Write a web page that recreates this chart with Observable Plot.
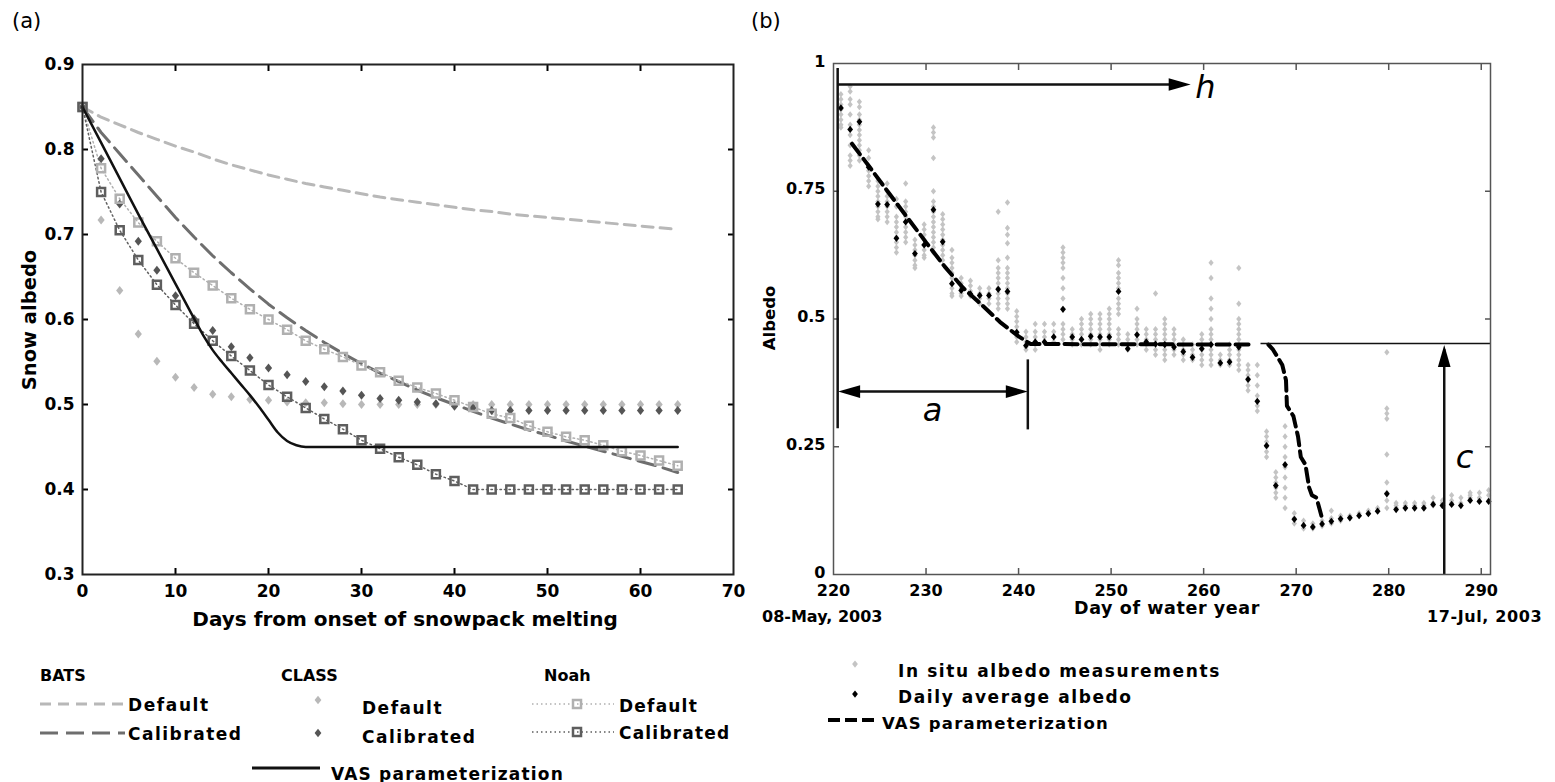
<!DOCTYPE html>
<html><head><meta charset="utf-8">
<script src="https://cdn.jsdelivr.net/npm/d3@7"></script>
<script src="https://cdn.jsdelivr.net/npm/@observablehq/plot@0.6"></script>
<style>
body{margin:0;background:#fff;}
#root{position:relative;width:1555px;height:782px;overflow:hidden;font-family:"DejaVu Sans",sans-serif;color:#000;}
.abs{position:absolute;white-space:nowrap;}
svg{overflow:visible;}
</style></head><body><div id="root"></div>
<script>
// ---------------- Panel (a) data ----------------
const meltDays = [0,2,4,6,8,10,12,14,16,18,20,22,24,26,28,30,32,34,36,38,40,42,44,46,48,50,52,54,56,58,60,62,64];
const batsDefault = [.85,.838,.829,.82,.812,.804,.797,.789,.782,.776,.77,.765,.76,.756,.752,.748,.744,.741,.738,.735,.732,.729,.727,.724,.722,.72,.718,.716,.714,.712,.71,.708,.706];
const batsCalibrated = [.85,.82,.795,.77,.745,.72,.697,.675,.655,.636,.618,.602,.587,.573,.56,.548,.537,.527,.517,.508,.5,.492,.484,.477,.47,.464,.457,.451,.445,.439,.433,.427,.42];
const classDefault = [.85,.717,.634,.583,.551,.532,.52,.512,.509,.506,.505,.503,.502,.502,.501,.5,.5,.5,.5,.5,.5,.5,.5,.5,.5,.5,.5,.5,.5,.5,.5,.5,.5];
const classCalibrated = [.85,.789,.736,.692,.658,.628,.601,.587,.568,.555,.543,.535,.527,.521,.516,.511,.507,.505,.503,.501,.498,.496,.493,.493,.493,.493,.493,.493,.493,.493,.493,.493,.493];
const noahDefault = [.85,.778,.742,.714,.692,.672,.655,.64,.625,.612,.6,.588,.575,.565,.556,.546,.538,.528,.52,.513,.505,.497,.489,.484,.475,.468,.462,.458,.452,.445,.44,.434,.428];
const noahCalibrated = [.85,.75,.705,.67,.641,.617,.595,.575,.557,.54,.523,.509,.496,.483,.471,.458,.448,.438,.429,.418,.41,.4,.4,.4,.4,.4,.4,.4,.4,.4,.4,.4,.4];
const vasADays = [0,2,4,6,8,10,12,13,14,15,16,17,18,19,20,21,22,23,24,64];
const vasAValues = [.85,.808,.766,.724,.683,.642,.601,.581,.564,.55,.537,.524,.511,.497,.482,.467,.457,.452,.45,.45];
const xTicksA = [0,10,20,30,40,50,60,70];
const yTicksA = [0.3,0.4,0.5,0.6,0.7,0.8,0.9];

// ---------------- Panel (b) data ----------------
const obsDays = [220.8,221.8,222.8,223.8,224.8,225.8,226.8,227.8,228.8,229.8,230.8,231.8,232.8,233.8,234.8,235.8,236.8,237.8,238.8,239.8,240.8,241.8,242.8,243.8,244.8,245.8,246.8,247.8,248.8,249.8,250.8,251.8,252.8,253.8,254.8,255.8,256.8,257.8,258.8,259.8,260.8,261.8,262.8,263.8,264.8,265.8,266.8,267.8,268.8,269.8,270.8,271.8,272.8,273.8,274.8,275.8,276.8,277.8,278.8,279.8,280.8,281.8,282.8,283.8,284.8,285.8,286.8,287.8,288.8,289.8,290.8];
const inSituValues = [
 [0.94,0.93,0.92,0.91,0.9,0.89,0.88,0.875],
 [0.955,0.945,0.93,0.92,0.9,0.88,0.86,0.84,0.82,0.81,0.8],
 [0.925,0.915,0.9,0.89,0.88,0.87,0.86,0.85,0.84,0.83,0.82,0.81],
 [0.83,0.815,0.8,0.79,0.78,0.77,0.76],
 [0.77,0.76,0.75,0.74,0.73,0.72,0.71,0.7,0.695],
 [0.765,0.75,0.74,0.73,0.72,0.71,0.7,0.69],
 [0.735,0.72,0.7,0.69,0.68,0.67,0.66,0.65,0.64,0.63],
 [0.765,0.73,0.72,0.71,0.7,0.69,0.68,0.67,0.66,0.65],
 [0.655,0.645,0.635,0.625,0.615,0.605,0.6],
 [0.685,0.675,0.665,0.655,0.645,0.635,0.625,0.62],
 [0.875,0.865,0.855,0.815,0.75,0.73,0.72,0.71,0.7,0.69,0.68,0.67,0.66,0.65,0.64,0.63],
 [0.705,0.695,0.685,0.675,0.665,0.655,0.645,0.635,0.625,0.615],
 [0.635,0.62,0.61,0.6,0.59,0.58,0.57,0.56,0.55,0.545],
 [0.58,0.57,0.56,0.55,0.545],
 [0.575,0.565,0.555,0.545],
 [0.56,0.55,0.54,0.53],
 [0.56,0.55,0.54,0.53],
 [0.71,0.615,0.6,0.59,0.58,0.57,0.56,0.55,0.54,0.53,0.52],
 [0.728,0.678,0.665,0.648,0.62,0.6,0.59,0.58,0.57,0.56,0.55,0.54,0.53,0.52],
 [0.515,0.505,0.495,0.485,0.475,0.465,0.455],
 [0.475,0.465,0.455,0.445,0.44],
 [0.49,0.475,0.465,0.455,0.45,0.44],
 [0.49,0.475,0.465,0.455],
 [0.49,0.475,0.465,0.455],
 [0.64,0.63,0.62,0.61,0.6,0.58,0.56,0.54,0.52,0.49,0.48,0.47,0.46],
 [0.48,0.47,0.46,0.45],
 [0.5,0.49,0.48,0.47,0.46,0.45],
 [0.51,0.5,0.49,0.48,0.47,0.46,0.45],
 [0.51,0.5,0.49,0.48,0.47,0.46,0.45,0.44],
 [0.52,0.51,0.5,0.49,0.48,0.47,0.46,0.45],
 [0.615,0.605,0.59,0.58,0.57,0.56,0.54,0.53,0.52,0.51,0.48,0.47,0.46,0.45],
 [0.47,0.46,0.45,0.44],
 [0.52,0.5,0.49,0.48,0.47,0.46,0.45],
 [0.48,0.47,0.46,0.45,0.44],
 [0.55,0.48,0.47,0.46,0.45,0.44,0.43],
 [0.5,0.49,0.48,0.47,0.46,0.45,0.44,0.43,0.42],
 [0.48,0.47,0.46,0.45,0.44,0.43],
 [0.46,0.45,0.44,0.43,0.42],
 [0.45,0.44,0.43,0.42],
 [0.47,0.46,0.45,0.44,0.43,0.42,0.41],
 [0.61,0.58,0.54,0.52,0.5,0.48,0.47,0.46,0.45,0.44,0.43,0.42,0.41],
 [0.43,0.42,0.41],
 [0.45,0.44,0.43,0.42,0.41],
 [0.6,0.53,0.5,0.49,0.48,0.47,0.46,0.45,0.44,0.43,0.42,0.41,0.4],
 [0.41,0.4,0.39,0.38,0.37,0.36],
 [0.41,0.39,0.37,0.35,0.33,0.32],
 [0.28,0.27,0.26,0.25,0.24,0.23],
 [0.2,0.19,0.18,0.17,0.16,0.15],
 [0.29,0.27,0.25,0.23,0.21,0.19,0.17,0.15,0.13],
 [0.12,0.11,0.1],
 [0.105,0.095,0.09],
 [0.1,0.09],
 [0.105,0.095],
 [0.125,0.11,0.1],
 [0.115,0.105],
 [0.115,0.11],
 [0.12,0.115],
 [0.125,0.12],
 [0.13,0.125],
 [0.435,0.325,0.315,0.305,0.235,0.18,0.16,0.145,0.13],
 [0.14,0.135,0.13],
 [0.14,0.135,0.13],
 [0.14,0.135,0.13],
 [0.14,0.135,0.13],
 [0.15,0.14,0.135],
 [0.145,0.14],
 [0.155,0.145,0.14],
 [0.15,0.14],
 [0.16,0.155,0.15],
 [0.16,0.15,0.145],
 [0.165,0.155,0.145]
];
const dailyAverage = [0.913,0.871,0.886,0.797,0.725,0.724,0.658,0.69,0.628,0.645,
 0.714,0.651,0.569,0.556,0.549,0.546,0.546,0.558,0.554,0.474,
 0.448,0.455,0.455,0.465,0.519,0.465,0.46,0.466,0.465,0.465,
 0.554,0.442,0.469,0.455,0.451,0.45,0.445,0.436,0.425,0.442,
 0.45,0.414,0.416,0.445,0.382,0.339,0.252,0.174,0.215,0.108,
 0.096,0.093,0.099,0.104,0.109,0.111,0.115,0.119,0.124,0.158,
 0.127,0.13,0.13,0.13,0.137,0.135,0.137,0.135,0.145,0.143,0.143];
const vasBDays = [222,224,226,228,230,232,234,236,238,240,241.3,265,267,267.5,268.5,268.9,269,269.7,270.2,270.5,271,271.4,271.7,272.2,272.8];
const vasBValues = [0.843,0.795,0.746,0.698,0.65,0.603,0.561,0.528,0.494,0.466,0.451,0.45,0.45,0.44,0.41,0.38,0.33,0.31,0.27,0.23,0.215,0.17,0.155,0.15,0.11];
const vasBSegment = [1,1,1,1,1,1,1,1,1,1,1,1,2,2,2,2,2,2,2,2,2,2,2,2,2];
const xTicksB = [220,230,240,250,260,270,280,290];
const yTicksB = [0,0.25,0.5,0.75,1];
// annotation geometry (data units)
const guideV = [{x:220.45, y1:0.285, y2:0.99},{x:241, y1:0.283, y2:0.42},{x:286, y1:0, y2:0.44}];
const guideH = [{y:0.959, x1:220.45, x2:257.5, w:2.5},{y:0.358, x1:221.5, x2:240, w:2.5},{y:0.452, x1:266.2, x2:291, w:1.5}];
const arrowHeads = [{x:258.6, y:0.959, rot:90},{x:220.5, y:0.358, rot:-90},{x:241, y:0.358, rot:90},{x:286, y:0.449, rot:0}];
const annoLabels = [{x:260.2, y:0.953, t:"h"},{x:230.7, y:0.321, t:"a"},{x:288.2, y:0.229, t:"c"}];

// ---------------- build ----------------
const root = document.getElementById("root");
const font = "DejaVu Sans";
const seriesA = (vals) => meltDays.map((d,i)=>({d, v: vals[i]}));
const vasA = vasADays.map((d,i)=>({d, v: vasAValues[i]}));
const inSitu = obsDays.flatMap((d,i)=>inSituValues[i].map(v=>({d, v})));
const daily = obsDays.map((d,i)=>({d, v: dailyAverage[i]}));
const vasB = vasBDays.map((d,i)=>({d, v: vasBValues[i], s: vasBSegment[i]}));
const blank = () => "";

const headSymbol = { draw(ctx, size) { const r = Math.sqrt(size/Math.PI); const L = 4*r, W = 1.15*r; ctx.moveTo(0,0); ctx.lineTo(-W,L); ctx.lineTo(W,L); ctx.closePath(); } };
// square rhombus marker
const rhombus = { draw(ctx, size) { const r = Math.sqrt(size/Math.PI); const h = 1.25*r, w = 1.0*r; ctx.moveTo(0,-h); ctx.lineTo(w,0); ctx.lineTo(0,h); ctx.lineTo(-w,0); ctx.closePath(); } };

const left = Plot.plot({
  width: 760, height: 640,
  marginLeft: 82, marginRight: 27, marginTop: 64, marginBottom: 66,
  x: {domain: [0,70]}, y: {domain: [0.3,0.9]},
  style: {fontFamily: font, fontSize: "17px", fontWeight: "bold", color: "#000", background: "transparent"},
  marks: [
    Plot.axisX({ticks: xTicksA, tickSize: 0, tickPadding: 10, label: null}),
    Plot.axisX({ticks: xTicksA.slice(1,-1), tickSize: -6, tickFormat: blank, label: null, strokeWidth: 2}),
    Plot.axisX({anchor: "top", ticks: xTicksA.slice(1,-1), tickSize: -6, tickFormat: blank, label: null, strokeWidth: 2}),
    Plot.axisY({ticks: yTicksA, tickSize: 0, tickPadding: 8, tickFormat: d3.format(".1f"), label: null}),
    Plot.axisY({ticks: yTicksA.slice(1,-1), tickSize: -6, tickFormat: blank, label: null, strokeWidth: 2}),
    Plot.axisY({anchor: "right", ticks: yTicksA.slice(1,-1), tickSize: -6, tickFormat: blank, label: null, strokeWidth: 2}),
    Plot.line(seriesA(batsDefault), {x:"d", y:"v", stroke:"#b8b8b8", strokeWidth: 3, strokeDasharray: "11,7"}),
    Plot.line(seriesA(batsCalibrated), {x:"d", y:"v", stroke:"#6e6e6e", strokeWidth: 3, strokeDasharray: "18,8"}),
    Plot.line(seriesA(noahDefault), {x:"d", y:"v", stroke:"#b0b0b0", strokeWidth: 1.5, strokeDasharray: "1.5,3"}),
    Plot.line(seriesA(noahCalibrated), {x:"d", y:"v", stroke:"#606060", strokeWidth: 1.5, strokeDasharray: "1.5,3"}),
    Plot.dot(seriesA(classDefault), {x:"d", y:"v", symbol: rhombus, r: 3.6, fill:"#b8b8b8"}),
    Plot.dot(seriesA(classCalibrated), {x:"d", y:"v", symbol: rhombus, r: 3.6, fill:"#555"}),
    Plot.dot(seriesA(noahDefault), {x:"d", y:"v", symbol:"square", r: 4.5, fill:"#fff", fillOpacity: 0, stroke:"#b0b0b0", strokeWidth: 2.5}),
    Plot.dot(seriesA(noahCalibrated), {x:"d", y:"v", symbol:"square", r: 4.5, fill:"#fff", fillOpacity: 0, stroke:"#5e5e5e", strokeWidth: 2.5}),
    Plot.line(vasA, {x:"d", y:"v", stroke:"#111", strokeWidth: 2.5, curve: "monotone-x"}),
    Plot.frame({stroke: "#222", strokeWidth: 2})
  ]
});
left.style.position = "absolute"; left.style.left = "0px"; left.style.top = "0px";
root.appendChild(left);

const right = Plot.plot({
  width: 795, height: 640,
  marginLeft: 73, marginRight: 65, marginTop: 63, marginBottom: 66,
  x: {domain: [220,291]}, y: {domain: [0,1]},
  style: {fontFamily: font, fontSize: "16px", fontWeight: "bold", color: "#000", background: "transparent"},
  marks: [
    Plot.axisX({ticks: xTicksB, tickSize: 0, tickPadding: 10, label: null}),
    Plot.axisX({ticks: xTicksB.slice(1), tickSize: -6, tickFormat: blank, label: null, stroke: "#555", strokeWidth: 1.5}),
    Plot.axisX({anchor: "top", ticks: xTicksB.slice(1), tickSize: -6, tickFormat: blank, label: null, stroke: "#555", strokeWidth: 1.5}),
    Plot.axisY({ticks: yTicksB, tickSize: 0, tickPadding: 8, tickFormat: d => String(d), label: null, dy: -2}),
    Plot.axisY({ticks: yTicksB.slice(1,-1), tickSize: -6, tickFormat: blank, label: null, stroke: "#555", strokeWidth: 1.5}),
    Plot.axisY({anchor: "right", ticks: yTicksB.slice(1,-1), tickSize: -6, tickFormat: blank, label: null, stroke: "#555", strokeWidth: 1.5}),
    Plot.dot(inSitu, {x:"d", y:"v", symbol: rhombus, r: 2.6, fill:"#c4c4c4"}),
    Plot.line(vasB, {x:"d", y:"v", z:"s", stroke:"#000", strokeWidth: 4, strokeDasharray: "13,6"}),
    Plot.dot(daily, {x:"d", y:"v", symbol: rhombus, r: 2.9, fill:"#000"}),
    Plot.ruleX(guideV, {x:"x", y1:"y1", y2:"y2", stroke:"#111", strokeWidth: 2.5}),
    Plot.ruleY(guideH, {y:"y", x1:"x1", x2:"x2", stroke:"#111", strokeWidth: "w"}),
    Plot.dot(arrowHeads, {x:"x", y:"y", rotate:"rot", symbol: headSymbol, r: 5.5, fill:"#000"}),
    Plot.text(annoLabels, {x:"x", y:"y", text:"t", fontSize: 32, fontStyle:"italic", fontWeight:"normal", fill:"#000"}),
    Plot.frame({stroke: "#555", strokeWidth: 1.5})
  ]
});
right.style.position = "absolute"; right.style.left = "760px"; right.style.top = "0px";
root.appendChild(right);

// ---------------- texts ----------------
function txt(s, x, y, o = {}) {
  const d = document.createElement("div");
  d.className = "abs"; d.textContent = s;
  const size = o.size || 17;
  d.style.fontSize = size + "px"; d.style.lineHeight = size + "px";
  d.style.fontWeight = o.weight || "bold";
  if (o.ls) d.style.letterSpacing = o.ls + "px";
  d.style.left = x + "px"; d.style.top = y + "px";
  let tr = "translate(" + (o.anchor === "middle" ? "-50%" : "0") + ",-50%)";
  if (o.rotate) tr = "translate(-50%,-50%) rotate(-90deg)";
  d.style.transform = tr;
  root.appendChild(d);
}
txt("(a)", 12, 21, {size: 21, weight: "normal"});
txt("(b)", 751, 21, {size: 21, weight: "normal"});
txt("Days from onset of snowpack melting", 405, 619, {size: 20, anchor: "middle"});
txt("Snow albedo", 30, 320, {size: 19.5, rotate: true});
txt("Day of water year", 1167, 609, {size: 17.5, anchor: "middle", ls: 0.6});
txt("Albedo", 770, 318, {size: 16.5, rotate: true});
txt("08-May, 2003", 762, 617, {size: 16});
txt("17-Jul, 2003", 1427, 617, {size: 16, ls: 0.6});

// legend (a)
txt("BATS", 40, 676, {size: 16});
txt("CLASS", 281, 676, {size: 16});
txt("Noah", 544, 676, {size: 16});
txt("Default", 128, 705, {size: 17, ls: 1.6});
txt("Calibrated", 128, 734, {size: 17, ls: 1.5});
txt("Default", 362, 708, {size: 17, ls: 1.5});
txt("Calibrated", 362, 737, {size: 17, ls: 1.5});
txt("Default", 619, 706, {size: 17, ls: 1.2});
txt("Calibrated", 619, 733, {size: 17, ls: 1.2});
txt("VAS parameterization", 331, 774, {size: 17, ls: 1.2});
// legend (b)
txt("In situ albedo measurements", 898, 671, {size: 17, ls: 1.6});
txt("Daily average albedo", 898, 697, {size: 17, ls: 1.6});
txt("VAS parameterization", 882, 724, {size: 16.5, ls: 1.2});

// legend swatches
const sw = d3.select(root).append("svg").attr("width", 1555).attr("height", 782)
  .style("position", "absolute").style("left", 0).style("top", 0);
sw.append("line").attr("x1", 40).attr("x2", 125).attr("y1", 704).attr("y2", 704).attr("stroke", "#b8b8b8").attr("stroke-width", 3).attr("stroke-dasharray", "11,7");
sw.append("line").attr("x1", 40).attr("x2", 125).attr("y1", 733).attr("y2", 733).attr("stroke", "#6e6e6e").attr("stroke-width", 3).attr("stroke-dasharray", "18,8");
const dia = d3.symbol(rhombus, Math.PI * 3.4 * 3.4);
sw.append("path").attr("d", dia()).attr("transform", "translate(318,700)").attr("fill", "#b8b8b8");
sw.append("path").attr("d", dia()).attr("transform", "translate(318,733)").attr("fill", "#555");
[[704, "#b0b0b0"], [732, "#5e5e5e"]].forEach(([y, c]) => {
  sw.append("line").attr("x1", 532).attr("x2", 614).attr("y1", y).attr("y2", y).attr("stroke", c).attr("stroke-width", 1.5).attr("stroke-dasharray", "1.5,3");
  sw.append("rect").attr("x", 573).attr("y", y - 4).attr("width", 8).attr("height", 8).attr("fill", "none").attr("stroke", c).attr("stroke-width", 2.5);
});
sw.append("line").attr("x1", 252).attr("x2", 320).attr("y1", 768).attr("y2", 768).attr("stroke", "#111").attr("stroke-width", 3);
const dia2 = d3.symbol(rhombus, Math.PI * 2.9 * 2.9);
sw.append("path").attr("d", dia2()).attr("transform", "translate(855,664)").attr("fill", "#c4c4c4");
sw.append("path").attr("d", dia2()).attr("transform", "translate(855,694)").attr("fill", "#000");
sw.append("line").attr("x1", 828).attr("x2", 877).attr("y1", 720).attr("y2", 720).attr("stroke", "#000").attr("stroke-width", 4).attr("stroke-dasharray", "12,5");
</script></body></html>
